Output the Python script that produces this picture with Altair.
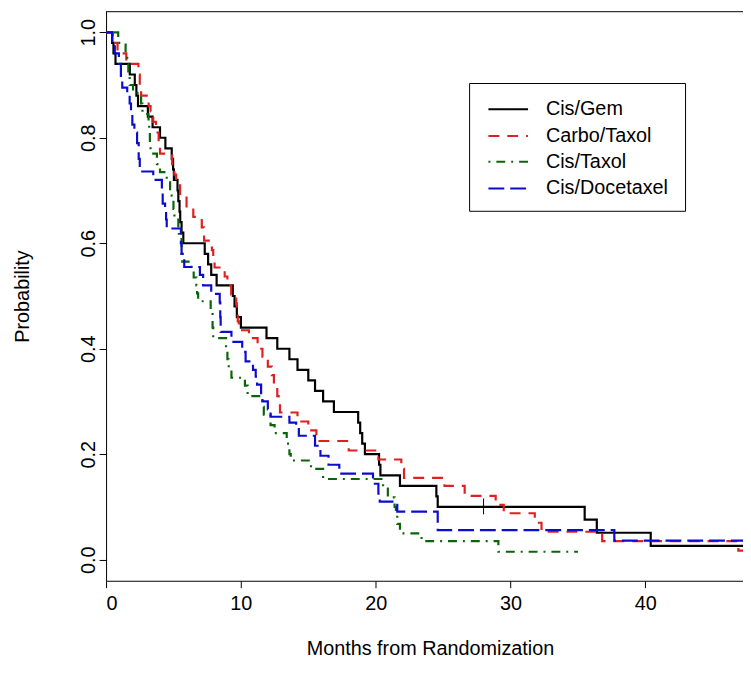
import altair as alt
import pandas as pd

series = ["Cis/Gem", "Carbo/Taxol", "Cis/Taxol", "Cis/Docetaxel"]
colors = ["#000000", "#e02020", "#0a640a", "#0c0cd0"]
dashes = [[1, 0], [11, 8], [2, 6, 9, 6], [16, 6]]

x_ticks = [0, 10, 20, 30, 40]
y_ticks = [0.0, 0.2, 0.4, 0.6, 0.8, 1.0]

# (months, survival probability) step points
cis_gem = [(0, 1.0), (0.45, 0.98), (0.55, 0.96), (0.7, 0.94), (1.76, 0.92), (2.13, 0.90),
           (2.25, 0.88), (2.37, 0.86), (3.1, 0.84), (3.45, 0.82), (4.0, 0.80), (4.4, 0.78),
           (4.87, 0.76), (4.97, 0.74), (5.03, 0.72), (5.3, 0.70), (5.36, 0.68), (5.45, 0.66),
           (5.5, 0.64), (5.6, 0.62), (5.73, 0.60), (7.32, 0.58), (7.57, 0.56), (7.8, 0.54),
           (8.2, 0.52), (9.4, 0.50), (9.53, 0.48), (9.7, 0.46), (10.0, 0.44), (11.9, 0.42),
           (12.7, 0.40), (13.6, 0.38), (14.2, 0.36), (15.0, 0.34), (15.5, 0.32), (16.1, 0.30),
           (16.9, 0.28), (18.7, 0.26), (18.85, 0.24), (19.0, 0.22), (19.2, 0.20), (20.25, 0.18),
           (20.35, 0.16), (21.8, 0.14), (24.5, 0.12), (24.6, 0.10), (35.5, 0.076), (36.4, 0.051),
           (40.4, 0.026), (48, 0.026)]

carbo_taxol = [(0, 1.0), (0.5, 0.98), (0.85, 0.96), (1.5, 0.94), (2.4, 0.92), (2.5, 0.90),
               (2.6, 0.88), (3.16, 0.86), (3.3, 0.85), (3.5, 0.83), (3.7, 0.81), (3.9, 0.79),
               (4.0, 0.77), (4.9, 0.75), (5.07, 0.73), (5.2, 0.71), (5.49, 0.69), (5.97, 0.67),
               (6.47, 0.65), (7.1, 0.63), (7.27, 0.605), (7.85, 0.587), (7.95, 0.57), (8.05, 0.554),
               (8.8, 0.537), (9.0, 0.52), (9.28, 0.503), (9.65, 0.486), (9.7, 0.469), (9.77, 0.452),
               (9.85, 0.435), (10.6, 0.42), (11.24, 0.40), (11.6, 0.385), (12.0, 0.366), (12.3, 0.35),
               (12.45, 0.33), (12.7, 0.31), (12.8, 0.295), (12.9, 0.279), (14.2, 0.262), (15.0, 0.245),
               (15.6, 0.225), (18.0, 0.207), (20.2, 0.19), (21.9, 0.172), (22.1, 0.155), (25.1, 0.14),
               (26.6, 0.121), (28.9, 0.104), (29.5, 0.088), (31.8, 0.07), (32.3, 0.053), (36.8, 0.035),
               (46.9, 0.017), (48, 0.017)]

cis_taxol = [(0, 1.0), (0.9, 0.98), (1.45, 0.96), (1.57, 0.94), (1.65, 0.92), (1.75, 0.90),
             (2.0, 0.885), (2.6, 0.865), (2.7, 0.845), (3.15, 0.83), (3.2, 0.81), (3.25, 0.79),
             (3.3, 0.77), (3.77, 0.75), (4.0, 0.735), (4.5, 0.72), (4.75, 0.70), (4.87, 0.69),
             (5.0, 0.665), (5.07, 0.648), (5.36, 0.625), (5.4, 0.61), (5.6, 0.58), (5.65, 0.565),
             (6.34, 0.55), (6.5, 0.535), (6.7, 0.52), (6.75, 0.505), (6.83, 0.49), (7.76, 0.47),
             (7.9, 0.44), (7.95, 0.42), (8.9, 0.40), (9.0, 0.38), (9.1, 0.36), (9.3, 0.345),
             (10.3, 0.33), (10.5, 0.31), (11.6, 0.29), (11.7, 0.275), (12.2, 0.255), (12.5, 0.24),
             (13.4, 0.22), (13.6, 0.20), (13.7, 0.188), (15.2, 0.172), (16.1, 0.153), (20.55, 0.135),
             (20.9, 0.118), (21.4, 0.10), (21.5, 0.085), (21.6, 0.068), (21.8, 0.05), (23.4, 0.035),
             (29.1, 0.015), (35.0, 0.015)]

cis_docetaxel = [(0, 1.0), (0.46, 0.98), (0.65, 0.96), (0.95, 0.94), (1.1, 0.915), (1.2, 0.895),
                 (1.57, 0.88), (1.75, 0.865), (1.85, 0.845), (1.95, 0.825), (2.1, 0.81), (2.3, 0.79),
                 (2.42, 0.76), (2.5, 0.736), (3.5, 0.72), (4.14, 0.70), (4.2, 0.675), (4.38, 0.66),
                 (4.45, 0.645), (4.5, 0.628), (5.55, 0.60), (5.6, 0.58), (5.8, 0.555), (6.96, 0.54),
                 (7.2, 0.52), (7.8, 0.504), (8.43, 0.488), (8.47, 0.46), (8.5, 0.432), (9.3, 0.413),
                 (10.1, 0.394), (10.35, 0.376), (10.9, 0.36), (11.1, 0.347), (11.2, 0.332), (11.5, 0.313),
                 (11.6, 0.30), (12.0, 0.285), (12.2, 0.271), (13.6, 0.26), (14.1, 0.25), (14.3, 0.235),
                 (15.5, 0.216), (15.9, 0.197), (16.5, 0.18), (17.3, 0.163), (19.8, 0.144), (20.2, 0.125),
                 (20.3, 0.11), (21.6, 0.091), (24.6, 0.056), (37.7, 0.036), (48, 0.036)]

censor_t = [28.0]
censor_s = [0.101]

curves = [cis_gem, carbo_taxol, cis_taxol, cis_docetaxel]

rows = []
for name, pts in zip(series, curves):
    for i, (t, s) in enumerate(pts):
        rows.append({"series": name, "t": t, "s": s, "i": i})
df = pd.DataFrame(rows)

FONT = "Liberation Sans"
FS = 20
W, H = 643, 575
XMAX = W / 13.61

xs = alt.Scale(domain=[0, XMAX], nice=False, zero=False)
ys = alt.Scale(domain=[-0.04, 1.04], nice=False, zero=False)
cs = alt.Scale(domain=series, range=colors)
ds = alt.Scale(domain=series, range=dashes)

x_axis = alt.Axis(values=x_ticks, format="d", title="Months from Randomization",
                  tickSize=7, labelPadding=6, titlePadding=25, titleX=327, titleAlign="center",
                  grid=False)
y_axis = alt.Axis(values=y_ticks, format=".1f", title="Probability", tickSize=7,
                  labelAngle=270, labelAlign="center", labelBaseline="bottom",
                  labelPadding=1, titlePadding=46, grid=False)

layers = []
for name in series:
    layers.append(
        alt.Chart(df[df.series == name]).mark_line(
            interpolate="step-after", strokeWidth=2.2, clip=True, strokeCap="butt"
        ).encode(
            x=alt.X("t:Q", scale=xs, axis=x_axis),
            y=alt.Y("s:Q", scale=ys, axis=y_axis),
            color=alt.Color("series:N", scale=cs, legend=None),
            strokeDash=alt.StrokeDash("series:N", scale=ds, legend=None),
            order="i:Q",
        )
    )

censor = alt.Chart(pd.DataFrame({"t": censor_t, "s": censor_s})).mark_point(
    shape="M0,-1L0,1", size=256, stroke="black", strokeWidth=1, filled=False, opacity=1
).encode(x=alt.X("t:Q", scale=xs), y=alt.Y("s:Q", scale=ys))

top_frame = alt.Chart(pd.DataFrame({"a": [0]})).mark_rule(color="black", strokeWidth=1).encode(
    x=alt.value(0), x2=alt.value(W), y=alt.value(0.5)
)

# legend box
legend_df = pd.DataFrame({"a": [0]})
box = alt.Chart(legend_df).mark_rect(fill="white", stroke="black", strokeWidth=1).encode(
    x=alt.value(367), x2=alt.value(585), y=alt.value(73), y2=alt.value(202)
)
leg = [box]
row_y = [99, 126, 152, 179]
for name, yy in zip(series, row_y):
    d = pd.DataFrame({"series": [name]})
    leg.append(alt.Chart(d).mark_rule(strokeWidth=2.2, strokeCap="butt").encode(
        x=alt.value(386), x2=alt.value(426), y=alt.value(yy),
        color=alt.Color("series:N", scale=cs, legend=None),
        strokeDash=alt.StrokeDash("series:N", scale=ds, legend=None),
    ))
    leg.append(alt.Chart(d).mark_text(align="left", baseline="middle", fontSize=FS,
                                      font=FONT, color="black").encode(
        x=alt.value(444), y=alt.value(yy), text="series:N"
    ))

chart = alt.layer(*layers, censor, top_frame, *leg).properties(
    width=W, height=H,
    autosize=alt.AutoSizeParams(type="none"),
    padding={"left": 99, "top": 0, "right": 0, "bottom": 102},
).configure_view(stroke=None).configure_axis(
    labelFont=FONT, titleFont=FONT, labelFontSize=FS, titleFontSize=FS,
    titleFontWeight="normal", labelColor="black", titleColor="black",
    domainColor="black", tickColor="black", domainWidth=1, tickWidth=1,
)

chart.save("out.html", embed_options={"renderer": "svg", "actions": False})
